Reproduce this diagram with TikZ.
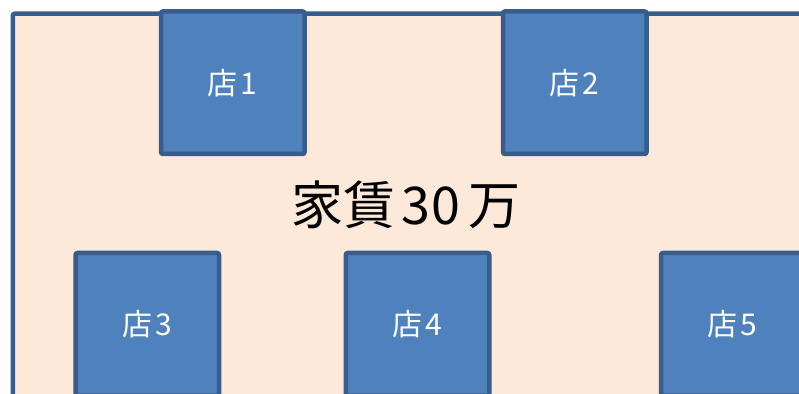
\documentclass[tikz,border=0pt]{standalone}
\usepackage{fontspec}
\setmainfont{Noto Sans CJK JP}
\definecolor{peach}{HTML}{FDE9D9}
\definecolor{boxfill}{HTML}{4F81BD}
\definecolor{boxline}{HTML}{385D8A}
\begin{document}
\begin{tikzpicture}[x=1pt,y=1pt,
  shop/.style={draw=boxline, fill=boxfill, line width=4.5pt, rounded corners=2pt,
    minimum width=143.5pt, minimum height=142.5pt, inner sep=0pt, text=white,
    font=\fontsize{30}{30}\selectfont},
  area/.style={draw=boxline, fill=peach, line width=4.5pt, rounded corners=2pt,
    minimum width=900pt, minimum height=500pt, inner sep=0pt, anchor=north west}]
\useasboundingbox (0,0) rectangle (799,393);
\clip (0,0) rectangle (799,393);
\node[area] (floor) at (10.5,381.5) {};
\node[shop] (s1) at (232.75,310.25) {店\hspace{3pt}1};
\node[shop] (s2) at (574.75,310.25) {店\hspace{3pt}2};
\node[shop] (s3) at (147.25,68.75) {店\hspace{3pt}3};
\node[shop] (s4) at (417.5,68.75) {店\hspace{3pt}4};
\node[shop] (s5) at (732.75,68.75) {店\hspace{3pt}5};
\node[font=\fontsize{52}{52}\selectfont, inner sep=0pt] (rent) at (406,188) {家賃\hspace{6pt}3\hspace{2pt}0\hspace{8pt}万};
\end{tikzpicture}
\end{document}
